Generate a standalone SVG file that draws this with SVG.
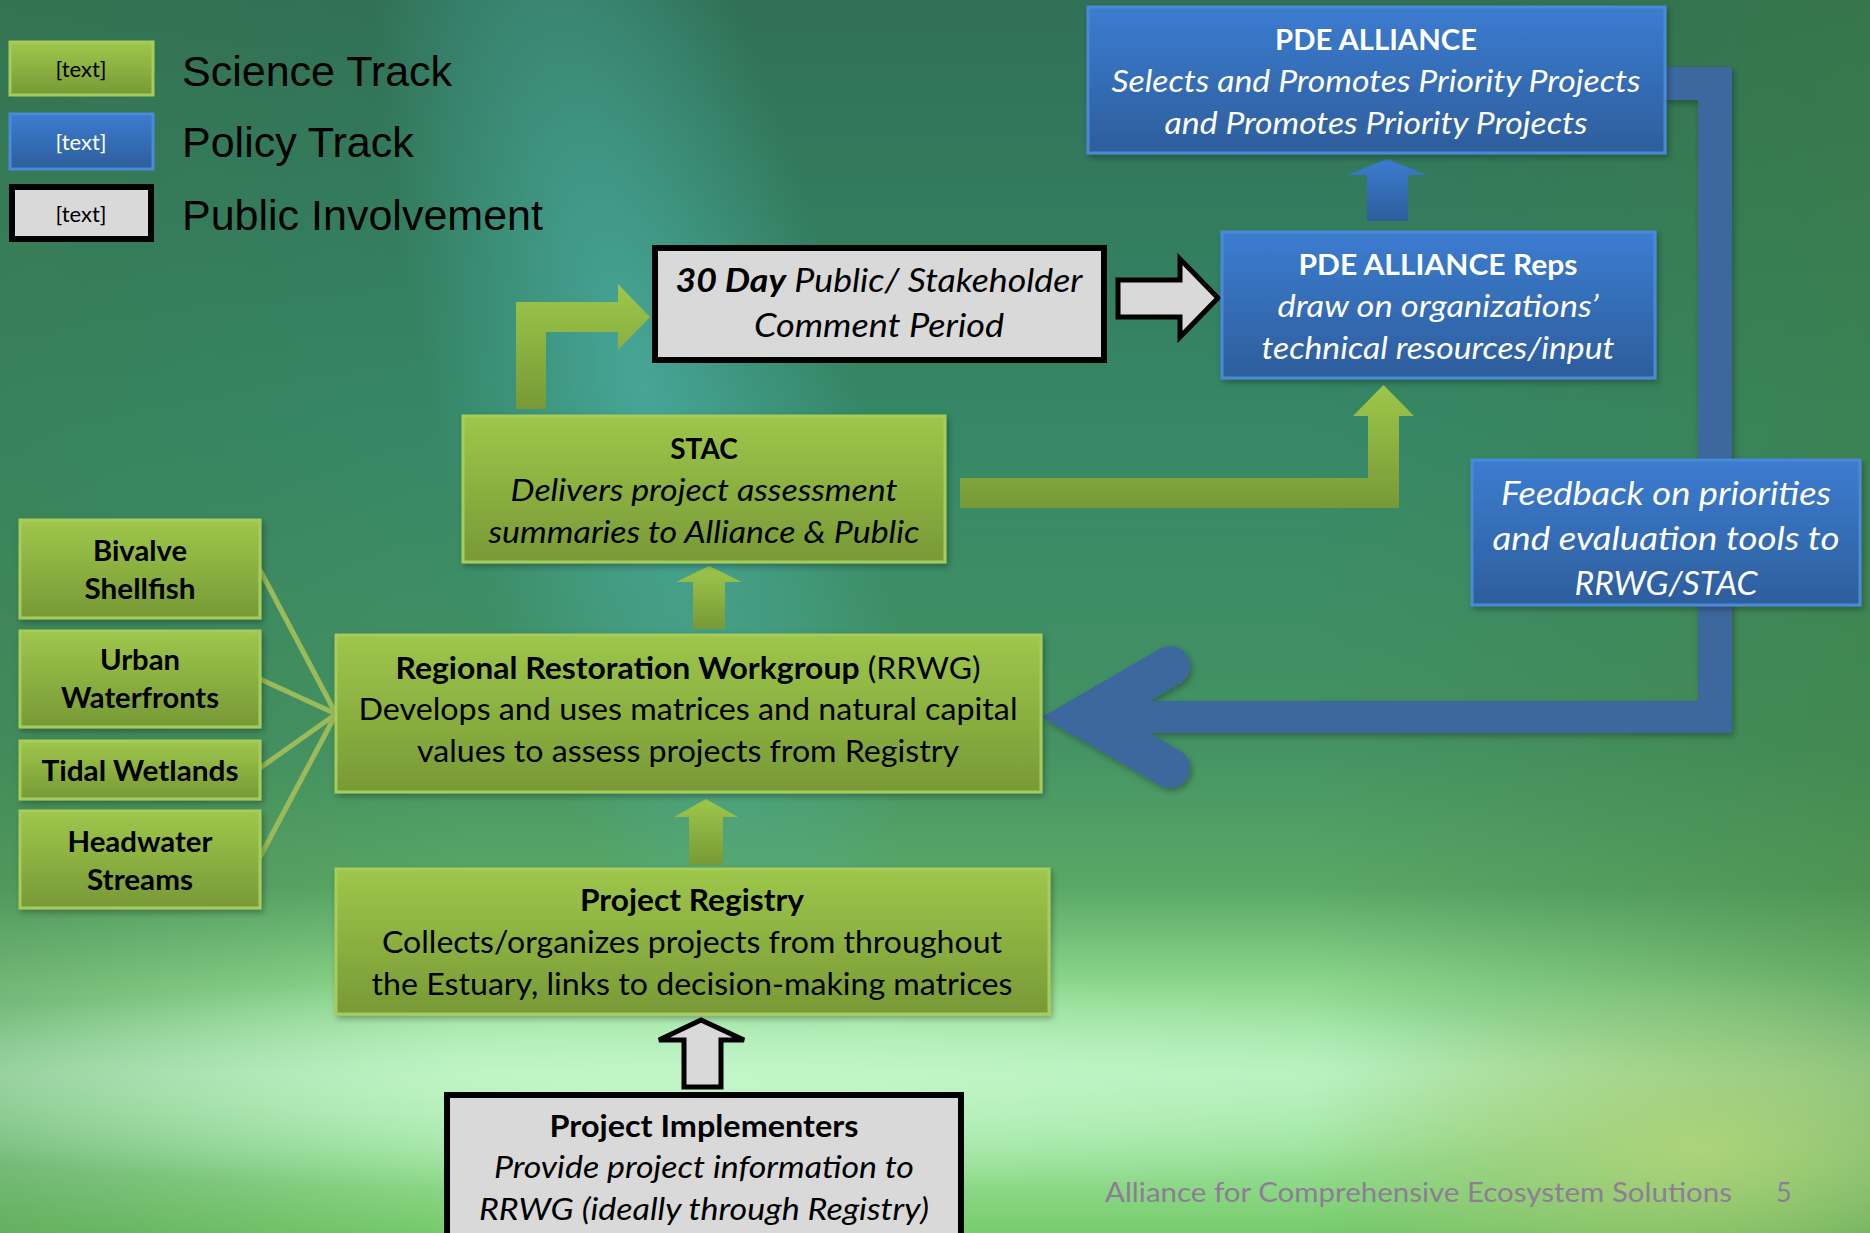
<svg xmlns="http://www.w3.org/2000/svg" width="1870" height="1233" viewBox="0 0 1870 1233">
<defs>
  <linearGradient id="bg" x1="0" y1="0" x2="0" y2="1">
    <stop offset="0" stop-color="#307056"/>
    <stop offset="0.35" stop-color="#368867"/>
    <stop offset="0.6" stop-color="#449263"/>
    <stop offset="0.72" stop-color="#5aa866"/>
    <stop offset="0.8" stop-color="#8ed88e"/>
    <stop offset="0.87" stop-color="#b2efbb"/>
    <stop offset="0.93" stop-color="#9be29c"/>
    <stop offset="1" stop-color="#78cc6c"/>
  </linearGradient>
  <linearGradient id="bgSide" x1="0" y1="0" x2="1" y2="0">
    <stop offset="0" stop-color="#3c7a48" stop-opacity="0.35"/>
    <stop offset="0.25" stop-color="#3c7a48" stop-opacity="0"/>
    <stop offset="0.7" stop-color="#3c7a48" stop-opacity="0"/>
    <stop offset="1" stop-color="#3f7d3c" stop-opacity="0.45"/>
  </linearGradient>
  <radialGradient id="teal" cx="0.5" cy="0.5" r="0.5">
    <stop offset="0" stop-color="#4cb0a8" stop-opacity="0.75"/>
    <stop offset="1" stop-color="#4cb0a8" stop-opacity="0"/>
  </radialGradient>
  <radialGradient id="glow" cx="0.5" cy="0.5" r="0.5">
    <stop offset="0" stop-color="#c8f8cc" stop-opacity="0.8"/>
    <stop offset="1" stop-color="#c8f8cc" stop-opacity="0"/>
  </radialGradient>
  <radialGradient id="yel" cx="0.5" cy="0.5" r="0.5">
    <stop offset="0" stop-color="#b8d878" stop-opacity="0.8"/>
    <stop offset="1" stop-color="#b8d878" stop-opacity="0"/>
  </radialGradient>
  <linearGradient id="gG" x1="0" y1="0" x2="0" y2="1">
    <stop offset="0" stop-color="#9ec74b"/>
    <stop offset="1" stop-color="#789936"/>
  </linearGradient>
  <linearGradient id="gB" x1="0" y1="0" x2="0" y2="1">
    <stop offset="0" stop-color="#3c7cd0"/>
    <stop offset="1" stop-color="#2d5e9c"/>
  </linearGradient>
  <filter id="sh" x="-10%" y="-10%" width="120%" height="130%">
    <feDropShadow dx="2" dy="3" stdDeviation="3" flood-color="#000" flood-opacity="0.3"/>
  </filter>
  <filter id="shU" filterUnits="userSpaceOnUse" x="0" y="0" width="1870" height="1233">
    <feDropShadow dx="2" dy="3" stdDeviation="3" flood-color="#000" flood-opacity="0.3"/>
  </filter>
  <style>
    .t{font-family:Lato,"Open Sans","Noto Sans",sans-serif;text-anchor:middle;fill:#000}
    .b{font-weight:bold}
    .i{font-style:italic}
    .w{fill:#fff}
    .s28{font-size:28px}
    .s31{font-size:31px}
    .lb{font-weight:bold;font-size:29px}
    .gbox{fill:url(#gG);stroke:#a6cc5c;stroke-width:3}
    .bbox{fill:url(#gB);stroke:#4a8ad8;stroke-width:3}
    .pbox{fill:#d9d9d9;stroke:#000;stroke-width:6}
    .leg{font-family:"Liberation Sans",Arial,sans-serif;font-size:43px;fill:#000}
    .gar{fill:url(#gG)}
    .bar{fill:url(#gB)}
    .hol{fill:#d9d9d9;stroke:#000;stroke-width:5;stroke-linejoin:miter}
    .fb{fill:#3d679e}
    .ln{stroke:#9bbb59;stroke-width:5;fill:none}
  </style>
</defs>

<g id="background">
  <rect x="0" y="0" width="1870" height="1233" fill="url(#bg)"/>
  <rect x="0" y="0" width="1870" height="1233" fill="url(#bgSide)"/>
  <ellipse cx="640" cy="380" rx="210" ry="700" fill="url(#teal)" transform="rotate(-14 640 380)"/>
  <ellipse cx="720" cy="1085" rx="1000" ry="110" fill="url(#glow)"/>
  <ellipse cx="1700" cy="1150" rx="400" ry="180" fill="url(#yel)"/>
</g>

<g id="legend">
  <g id="legend-science">
    <rect x="10" y="42" width="143" height="53" class="gbox"/>
    <text x="81" y="77" class="t" font-size="22">[text]</text>
    <text x="182" y="86" class="leg">Science Track</text>
  </g>
  <g id="legend-policy">
    <rect x="10" y="114" width="143" height="55" class="bbox"/>
    <text x="81" y="150" class="t w" font-size="22">[text]</text>
    <text x="182" y="157" class="leg">Policy Track</text>
  </g>
  <g id="legend-public">
    <rect x="12" y="187" width="139" height="52" class="pbox"/>
    <text x="81" y="222" class="t" font-size="22">[text]</text>
    <text x="182" y="230" class="leg">Public Involvement</text>
  </g>
</g>

<g id="connectors">
  <g filter="url(#shU)">
    <path class="fb" d="M1664,67 H1732 V733 H1080 V701 H1698 V100 H1664 Z"/>
    <polyline points="1170,666 1082,717 1170,768" fill="none" stroke="#3d679e" stroke-width="40" stroke-linecap="round" stroke-linejoin="miter" stroke-miterlimit="6"/>
  </g>
  <line class="ln" x1="260" y1="570" x2="336" y2="714"/>
  <line class="ln" x1="260" y1="679" x2="336" y2="714"/>
  <line class="ln" x1="260" y1="768" x2="336" y2="714"/>
  <line class="ln" x1="260" y1="857" x2="336" y2="714"/>
  <polygon class="gar" points="516,409 516,302 618,302 618,284 650,317 618,350 618,332 546,332 546,409"/>
  <polygon class="gar" points="960,478 1368,478 1368,416 1353,416 1383.5,385 1414,416 1399,416 1399,508 960,508"/>
  <polygon class="gar" points="693,629 693,582 676,582 709,566 742,582 725,582 725,629"/>
  <polygon class="gar" points="689,865 689,817 674,817 706,799 738,817 723,817 723,865"/>
  <polygon class="bar" points="1367,221 1367,175 1347,175 1387,159 1427,175 1408,175 1408,221"/>
  <polygon class="hol" points="1118,280 1180,280 1180,259 1218,298 1180,337 1180,317 1118,317"/>
  <polygon class="hol" points="684,1087 684,1040 659,1040 701,1020 744,1040 721,1040 721,1087"/>
</g>

<g id="pde-alliance">
  <rect x="1088" y="7" width="577" height="146" class="bbox" filter="url(#sh)"/>
  <text x="1376" y="50" class="t w b s28" textLength="202" lengthAdjust="spacingAndGlyphs">PDE ALLIANCE</text>
  <text x="1376" y="92" class="t w i s31" textLength="529" lengthAdjust="spacingAndGlyphs">Selects and Promotes Priority Projects</text>
  <text x="1376" y="134" class="t w i s31" textLength="423" lengthAdjust="spacingAndGlyphs">and Promotes Priority Projects</text>
</g>

<g id="pde-reps">
  <rect x="1222" y="232" width="433" height="146" class="bbox" filter="url(#sh)"/>
  <text x="1438" y="275" class="t w b s28" textLength="279" lengthAdjust="spacingAndGlyphs">PDE ALLIANCE Reps</text>
  <text x="1438" y="317" class="t w i s31" textLength="321" lengthAdjust="spacingAndGlyphs">draw on organizations’</text>
  <text x="1438" y="359" class="t w i s31" textLength="353" lengthAdjust="spacingAndGlyphs">technical resources/input</text>
</g>

<g id="comment-period">
  <rect x="655" y="248" width="449" height="112" class="pbox"/>
  <text x="879" y="292" class="t i" font-size="32" textLength="407" lengthAdjust="spacingAndGlyphs"><tspan class="b">30 Day</tspan> Public/ Stakeholder</text>
  <text x="879" y="337" class="t i" font-size="32" textLength="250" lengthAdjust="spacingAndGlyphs">Comment Period</text>
</g>

<g id="stac">
  <rect x="463" y="416" width="482" height="146" class="gbox" filter="url(#sh)"/>
  <text x="704" y="459" class="t b s28">STAC</text>
  <text x="704" y="501" class="t i s31" textLength="387" lengthAdjust="spacingAndGlyphs">Delivers project assessment</text>
  <text x="704" y="543" class="t i s31" textLength="431" lengthAdjust="spacingAndGlyphs">summaries to Alliance &amp; Public</text>
</g>

<g id="feedback">
  <rect x="1472" y="460" width="388" height="145" class="bbox" filter="url(#sh)"/>
  <text x="1666" y="505" class="t w i" font-size="32" textLength="330" lengthAdjust="spacingAndGlyphs">Feedback on priorities</text>
  <text x="1666" y="550" class="t w i" font-size="32" textLength="347" lengthAdjust="spacingAndGlyphs">and evaluation tools to</text>
  <text x="1666" y="595" class="t w i" font-size="32" textLength="183" lengthAdjust="spacingAndGlyphs">RRWG/STAC</text>
</g>

<g id="rrwg">
  <rect x="336" y="635" width="705" height="157" class="gbox" filter="url(#sh)"/>
  <text x="688" y="679" class="t s31" textLength="585" lengthAdjust="spacingAndGlyphs"><tspan class="b">Regional Restoration Workgroup</tspan> (RRWG)</text>
  <text x="688" y="720" class="t s31" textLength="659" lengthAdjust="spacingAndGlyphs">Develops and uses matrices and natural capital</text>
  <text x="688" y="762" class="t s31" textLength="542" lengthAdjust="spacingAndGlyphs">values to assess projects from Registry</text>
</g>

<g id="registry">
  <rect x="336" y="869" width="713" height="145" class="gbox" filter="url(#sh)"/>
  <text x="692" y="911" class="t b s31" textLength="224" lengthAdjust="spacingAndGlyphs">Project Registry</text>
  <text x="692" y="953" class="t s31" textLength="620" lengthAdjust="spacingAndGlyphs">Collects/organizes projects from throughout</text>
  <text x="692" y="995" class="t s31" textLength="641" lengthAdjust="spacingAndGlyphs">the Estuary, links to decision-making matrices</text>
</g>

<g id="implementers">
  <rect x="447" y="1095" width="514" height="150" class="pbox"/>
  <text x="704" y="1137" class="t b s31" textLength="309" lengthAdjust="spacingAndGlyphs">Project Implementers</text>
  <text x="704" y="1178" class="t i s31" textLength="420" lengthAdjust="spacingAndGlyphs">Provide project information to</text>
  <text x="704" y="1220" class="t i s31" textLength="450" lengthAdjust="spacingAndGlyphs">RRWG (ideally through Registry)</text>
</g>

<g id="bivalve">
  <rect x="20" y="520" width="240" height="98" class="gbox" filter="url(#sh)"/>
  <text x="140" y="561" class="t lb" textLength="94" lengthAdjust="spacingAndGlyphs">Bivalve</text>
  <text x="140" y="599" class="t lb" textLength="111" lengthAdjust="spacingAndGlyphs">Shellfish</text>
</g>
<g id="urban">
  <rect x="20" y="631" width="240" height="96" class="gbox" filter="url(#sh)"/>
  <text x="140" y="670" class="t lb" textLength="80" lengthAdjust="spacingAndGlyphs">Urban</text>
  <text x="140" y="708" class="t lb" textLength="158" lengthAdjust="spacingAndGlyphs">Waterfronts</text>
</g>
<g id="tidal">
  <rect x="20" y="741" width="240" height="58" class="gbox" filter="url(#sh)"/>
  <text x="140" y="781" class="t lb" textLength="197" lengthAdjust="spacingAndGlyphs">Tidal Wetlands</text>
</g>
<g id="headwater">
  <rect x="20" y="811" width="240" height="97" class="gbox" filter="url(#sh)"/>
  <text x="140" y="852" class="t lb" textLength="145" lengthAdjust="spacingAndGlyphs">Headwater</text>
  <text x="140" y="890" class="t lb" textLength="106" lengthAdjust="spacingAndGlyphs">Streams</text>
</g>

<g id="footer">
  <text x="1105" y="1202" font-family="Lato,'Open Sans',sans-serif" font-size="27" fill="#8d7e95" textLength="627" lengthAdjust="spacingAndGlyphs">Alliance for Comprehensive Ecosystem Solutions</text>
  <text x="1776" y="1202" font-family="Lato,'Open Sans',sans-serif" font-size="27" fill="#8d7e95">5</text>
</g>
</svg>
